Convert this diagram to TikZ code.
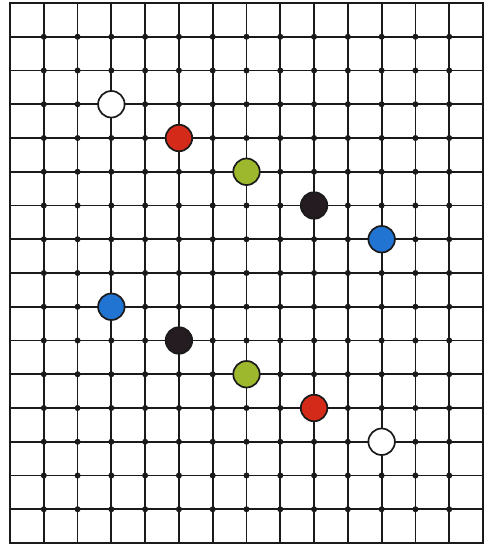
\documentclass[tikz,border=0pt]{standalone}
\definecolor{stonered}{HTML}{D42A1A}
\definecolor{stonegreen}{HTML}{9DB82C}
\definecolor{stoneblue}{HTML}{2274D2}
\definecolor{stoneblack}{HTML}{241C20}
\definecolor{ink}{HTML}{1A1A1A}
\begin{document}
\begin{tikzpicture}[x=1pt,y=-1pt,
  gridline/.style={line width=1.8pt, draw=ink, line cap=round},
  crossdot/.style={fill=ink},
  stone/.style={circle, draw=ink, line width=1.7pt, minimum size=26.5pt, inner sep=0pt}]
\useasboundingbox (0,0) rectangle (489,549);
\fill[white] (0,0) rectangle (489,549);
\def\dx{33.786}
\def\dy{33.75}
% vertical lines
\foreach \i in {1,...,13}
  \draw[gridline] ({10+\i*\dx},3) -- ({10+\i*\dx},543);
% horizontal lines
\foreach \j in {1,...,15}
  \draw[gridline] (10,{3+\j*\dy}) -- (483,{3+\j*\dy});
% frame
\draw[gridline] (10,3) rectangle (483,543);
% dots at intersections
\foreach \i in {1,...,13}
  \foreach \j in {1,...,15}
    \fill[crossdot] ({10+\i*\dx},{3+\j*\dy}) circle (3);
% stones
\node[stone, fill=white]       (w1) at ({10+3*\dx},{3+3*\dy}) {};
\node[stone, fill=stonered]    (r1) at ({10+5*\dx},{3+4*\dy}) {};
\node[stone, fill=stonegreen]  (g1) at ({10+7*\dx},{3+5*\dy}) {};
\node[stone, fill=stoneblack]  (k1) at ({10+9*\dx},{3+6*\dy}) {};
\node[stone, fill=stoneblue]   (b1) at ({10+11*\dx},{3+7*\dy}) {};
\node[stone, fill=stoneblue]   (b2) at ({10+3*\dx},{3+9*\dy}) {};
\node[stone, fill=stoneblack]  (k2) at ({10+5*\dx},{3+10*\dy}) {};
\node[stone, fill=stonegreen]  (g2) at ({10+7*\dx},{3+11*\dy}) {};
\node[stone, fill=stonered]    (r2) at ({10+9*\dx},{3+12*\dy}) {};
\node[stone, fill=white]       (w2) at ({10+11*\dx},{3+13*\dy}) {};
\end{tikzpicture}
\end{document}
